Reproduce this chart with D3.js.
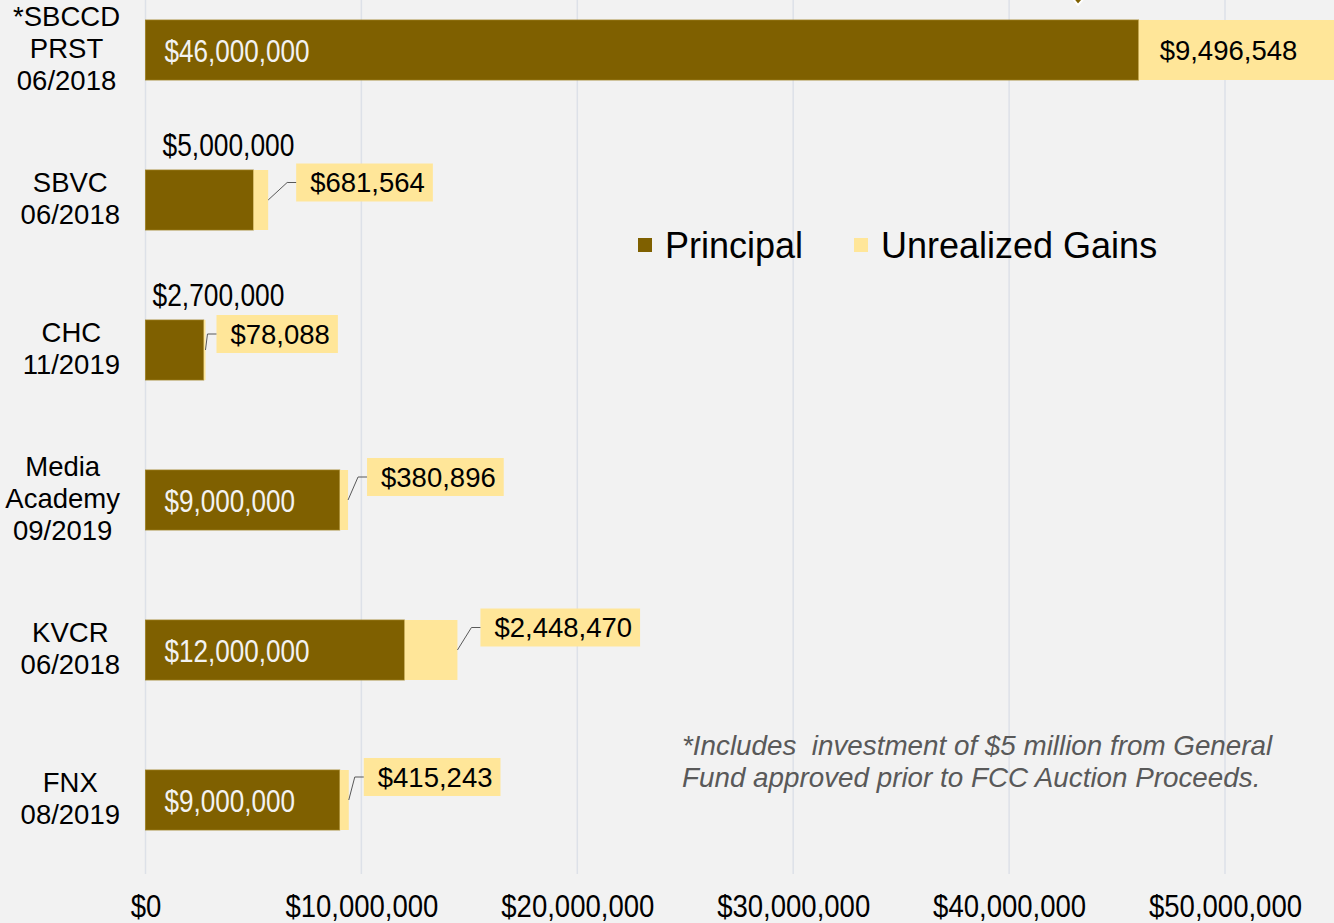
<!DOCTYPE html>
<html>
<head>
<meta charset="utf-8">
<script src="https://cdn.jsdelivr.net/npm/d3@7"></script>
<style>
  body { margin: 0; background: #f2f2f2; }
  svg { display: block; font-family: "Liberation Sans", Arial, sans-serif; }
</style>
</head>
<body>
<svg id="chart" width="1334" height="923"></svg>
<script>
// Data
const categories = ["*SBCCD\nPRST\n06/2018", "SBVC\n06/2018", "CHC\n11/2019", "Media\nAcademy\n09/2019", "KVCR\n06/2018", "FNX\n08/2019"];
const principal = [46000000, 5000000, 2700000, 9000000, 12000000, 9000000];
const gains = [9496548, 681564, 78088, 380896, 2448470, 415243];
const tickValues = [0, 10000000, 20000000, 30000000, 40000000, 50000000];
const seriesNames = ["Principal", "Unrealized Gains"];

// layout for the callout labels (gap between bar end and box)
const calloutGap = [null, 28, 11, 19, 23, 15];
const calloutRise = [0, 17.5, 16, 23, 22.5, 23];

const colors = { principal: "#7f6000", gains: "#ffe699" };
const fmt = d3.format("$,");

// no narrow font installed: squeeze the regular one
function narrow(sel, ratio) {
    sel.each(function() {
        const w = this.getComputedTextLength();
        d3.select(this).attr("textLength", w * ratio).attr("lengthAdjust", "spacingAndGlyphs");
    });
}

const svg = d3.select("#chart");
const W = 1334, H = 923;

svg.append("rect").attr("width", W).attr("height", H).attr("fill", "#f2f2f2");

const x = d3.scaleLinear().domain([0, 50000000]).range([145.5, 1225]);
const y = d3.scaleBand().domain(categories).range([-25, 875]).paddingInner(0.6).paddingOuter(0.3);

// gridlines
svg.append("g").selectAll("line")
    .data(tickValues)
    .enter().append("line")
    .attr("x1", d => x(d)).attr("x2", d => x(d))
    .attr("y1", 0).attr("y2", 874)
    .attr("stroke", "#dde1e8")
    .attr("stroke-width", 1.5);

const rows = categories.map((c, i) => ({ cat: c, p: principal[i], g: gains[i], i }));

// bars
svg.append("g").selectAll("rect")
    .data(rows)
    .enter().append("rect")
    .attr("x", x(0))
    .attr("y", d => y(d.cat))
    .attr("width", d => x(d.p) - x(0))
    .attr("height", y.bandwidth())
    .attr("fill", colors.principal)
    .attr("stroke", "#9c7d1c")
    .attr("stroke-width", 0.8);

svg.append("g").selectAll("rect")
    .data(rows)
    .enter().append("rect")
    .attr("x", d => x(d.p))
    .attr("y", d => y(d.cat))
    .attr("width", d => x(d.p + d.g) - x(d.p))
    .attr("height", y.bandwidth())
    .attr("fill", colors.gains);

// principal labels
rows.forEach(d => {
    const cy = y(d.cat) + y.bandwidth() / 2;
    const inside = x(d.p) - x(0) > 160;
    if (inside) {
        svg.append("text")
            .attr("x", x(0) + 19)
            .attr("y", cy)
            .attr("dy", "0.36em")
            .attr("font-size", 32)
            .attr("fill", "#f2f2f2")
            .text(fmt(d.p))
            .call(narrow, 0.815);
    } else {
        svg.append("text")
            .attr("x", x(d.p) - x(0) > 80 ? x(0) + 17 : x(0) + 7)
            .attr("y", y(d.cat) - 25)
            .attr("dy", "0.36em")
            .attr("font-size", 31)
            .attr("fill", "#000")
            .text(fmt(d.p))
            .call(narrow, 0.85);
    }
});

// gains labels
rows.forEach(d => {
    const cy = y(d.cat) + y.bandwidth() / 2;
    if (d.i === 0) {
        svg.append("text")
            .attr("x", x(d.p) + 21)
            .attr("y", cy)
            .attr("dy", "0.36em")
            .attr("font-size", 27.5)
            .attr("fill", "#000")
            .text(fmt(d.g));
        return;
    }
    const endX = x(d.p + d.g);
    const boxL = endX + calloutGap[d.i];
    const boxMid = cy - calloutRise[d.i];
    const g = svg.append("g");
    const box = g.append("rect").attr("fill", colors.gains);
    const t = g.append("text")
        .attr("x", boxL + 14)
        .attr("y", boxMid)
        .attr("dy", "0.36em")
        .attr("font-size", 27.5)
        .attr("fill", "#000")
        .text(fmt(d.g));
    const tw = t.node().getComputedTextLength();
    box.attr("x", boxL).attr("y", boxMid - 19)
        .attr("width", tw + 22).attr("height", 38);
    g.append("path")
        .attr("d", `M${endX},${cy}L${boxL - 9},${boxMid}L${boxL},${boxMid}`)
        .attr("fill", "none")
        .attr("stroke", "#595959")
        .attr("stroke-width", 1);
});

// category labels
rows.forEach(d => {
    const lines = d.cat.split("\n");
    const cy = y(d.cat) + y.bandwidth() / 2;
    const g = svg.append("g");
    const texts = lines.map((l, k) => g.append("text")
        .attr("y", cy + (k - (lines.length - 1) / 2) * 32)
        .attr("dy", "0.3em")
        .attr("font-size", 27.5)
        .attr("text-anchor", "middle")
        .attr("fill", "#000")
        .text(l));
    const maxW = d3.max(texts, t => t.node().getComputedTextLength());
    texts.forEach(t => t.attr("x", 120 - maxW / 2));
});

// x axis
const axis = svg.append("g")
    .attr("transform", "translate(0,891)")
    .call(d3.axisBottom(x).tickValues(tickValues).tickFormat(fmt).tickSize(0).tickPadding(3));
axis.select(".domain").remove();
axis.selectAll("text")
    .attr("font-size", 32)
    .attr("font-family", "'Liberation Sans', sans-serif")
    .attr("fill", "#000")
    .call(narrow, 0.86);

// legend
const legendX = [638, 854];
const legend = svg.append("g").selectAll("g")
    .data(seriesNames)
    .enter().append("g")
    .attr("transform", (d, i) => `translate(${legendX[i]},245)`);
legend.append("rect")
    .attr("x", 0).attr("y", -7)
    .attr("width", 14).attr("height", 14)
    .attr("fill", (d, i) => i === 0 ? colors.principal : colors.gains);
legend.append("text")
    .attr("x", 27)
    .attr("dy", "0.36em")
    .attr("font-size", 36)
    .attr("fill", "#000")
    .text(d => d);

// footnote
const note = ["*Includes  investment of $5 million from General", "Fund approved prior to FCC Auction Proceeds."];
svg.append("g").selectAll("text")
    .data(note)
    .enter().append("text")
    .attr("x", 682)
    .attr("y", (d, i) => 745 + i * 32)
    .attr("dy", "0.36em")
    .attr("font-size", 27.8)
    .attr("font-style", "italic")
    .attr("fill", "#595959")
    .style("white-space", "pre")
    .text(d => d);

// arrow tip cut off at top edge
svg.append("path")
    .attr("d", "M1069,-6L1085,-3L1078,5Z")
    .attr("fill", colors.principal)
    .attr("stroke", "#fff")
    .attr("stroke-width", 2);
</script>
</body>
</html>
